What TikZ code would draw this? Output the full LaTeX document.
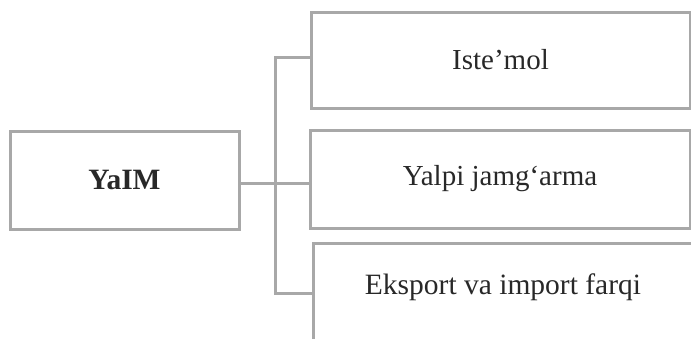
\documentclass[tikz,border=0pt]{standalone}
\usepackage{fontspec}
\setmainfont{Liberation Serif}
\begin{document}
\begin{tikzpicture}[x=1pt,y=-1pt,
  boxstyle/.style={draw=linegray, line width=3pt, rectangle, inner sep=0pt, text=textgray, font=\fontsize{29}{32}\selectfont},
  conn/.style={draw=linegray, line width=3pt},
  lbl/.style={text=textgray, inner sep=0pt, font=\fontsize{29.5}{32}\selectfont}]
\definecolor{linegray}{RGB}{168,168,168}
\definecolor{textgray}{RGB}{40,40,40}
\useasboundingbox (0,0) rectangle (691,338);
\clip (0,0) rectangle (691,338);
\node[boxstyle, minimum width=229pt, minimum height=98pt, font=\fontsize{29.5}{32}\selectfont\bfseries] (yaim) at (124.5,180) {YaIM};
\node[boxstyle, minimum width=379pt, minimum height=96pt] (a) at (500.5,60) {Iste’mol};
\node[boxstyle, minimum width=380pt, minimum height=98pt] (b) at (500,179) {Yalpi jamg‘arma};
\node[boxstyle, minimum width=390pt, minimum height=160pt] (cbox) at (508,323) {};
\node[lbl] (ctext) at (503,287) {Eksport va import farqi};
\coordinate (t1) at (275,57);
\coordinate (tm) at (275,183);
\coordinate (t2) at (275,293);
\draw[conn] (yaim.east |- tm) -- (b.west |- tm);
\draw[conn] (a.west |- t1) -- (t1) -- (t2) -- (cbox.west |- t2);
\end{tikzpicture}
\end{document}
